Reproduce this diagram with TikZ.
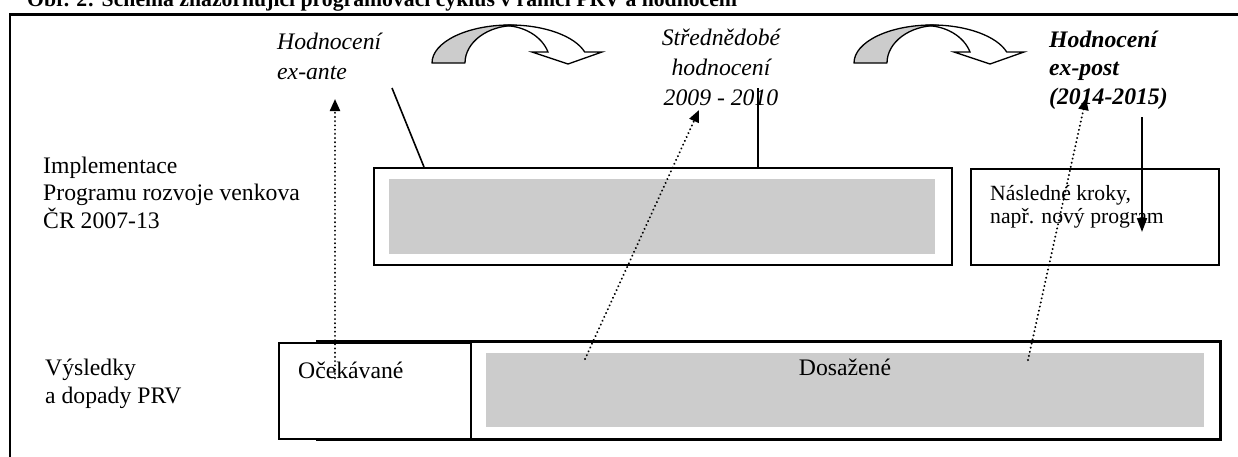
\documentclass[tikz,border=0pt]{standalone}
\usepackage{fontspec}
\setmainfont{Liberation Serif}
\usetikzlibrary{arrows.meta}
\definecolor{boxgray}{HTML}{CCCCCC}
\tikzset{
  curvarr/.pic={
    \filldraw[fill=boxgray, line width=1.3pt, line join=round]
      (0,0) .. controls (0,-21) and (35,-38) .. (78,-38)
      -- (83,-37.5) .. controls (55.4,-37.5) and (33,-20.7) .. (33,0) -- cycle;
    \filldraw[fill=white, line width=1.3pt, line join=miter]
      (71,-37.5) -- (78,-38) .. controls (112.4,-38) and (142.7,-27) .. (152.7,-11)
      -- (170,-11) -- (136,1) -- (100,-11) -- (116,-11)
      .. controls (109.9,-26.7) and (91.7,-37.5) .. (71,-37.5) -- cycle;
  }
}
\begin{document}
\begin{tikzpicture}[x=1pt,y=1pt,yscale=-1,
  txt/.style={inner sep=0pt, anchor=base west, align=left, font=\fontsize{23.7pt}{27.5pt}\selectfont},
  itxt/.style={inner sep=0pt, anchor=base west, align=left, font=\fontsize{23.7pt}{30pt}\selectfont\itshape},
  smtxt/.style={inner sep=0pt, anchor=base west, align=left, font=\fontsize{21.7pt}{23pt}\selectfont},
  titlest/.style={inner sep=0pt, anchor=base west, font=\fontsize{21.7pt}{24pt}\selectfont\bfseries},
  boxst/.style={draw, line width=1.6pt, inner sep=0pt, anchor=north west},
  grayst/.style={fill=boxgray, inner sep=0pt, anchor=north west},
  solidln/.style={line width=1.6pt},
  dotln/.style={line width=2.2pt, dash pattern=on 0.01pt off 4.2pt, line cap=round, -{Triangle[length=12pt,width=10pt]}},
]
\useasboundingbox (0,0) rectangle (1238,456);
\clip (0,0) rectangle (1238,456);

% title and frame
\node[titlest] (title) at (27,6) {Obr. 2: Schéma znázorňující programovací cyklus v rámci PRV a hodnocení};
\draw[line width=2.2pt] (10,460) -- (10,14.5) -- (1240,14.5);

% curved arrows
\pic[transform shape] at (432,63) {curvarr};
\pic[transform shape] at (854,63) {curvarr};

% evaluation labels (anchor = baseline of last line)
\node[itxt] (hexante) at (277,79) {Hodnocení\\ex-ante};
\node[itxt, align=center, anchor=base] (hstred) at (721,105) {Střednědobé\\hodnocení\\2009 - 2010};
\node[itxt, font=\fontsize{23.7pt}{28.5pt}\selectfont\bfseries\itshape] (hpost) at (1049,104) {Hodnocení\\ex-post\\(2014-2015)};

% row labels
\node[txt] (impl) at (43,228) {Implementace\\Programu rozvoje venkova\\ČR 2007-13};
\node[txt] (vysl) at (45,403) {Výsledky\\a dopady PRV};

% implementation boxes
\node[boxst, minimum width=578pt, minimum height=97pt] (box1) at (373,167) {};
\node[grayst, minimum width=546pt, minimum height=75pt] (gray1) at (389,179) {};
\node[boxst, minimum width=248pt, minimum height=96pt] (box2) at (970,168) {};
\node[smtxt] (next) at (990,223) {Následné kroky,\\např. nový program};

% results boxes
\node[boxst, line width=2.5pt, minimum width=903pt, minimum height=98pt] (dosbox) at (316,340) {};
\node[grayst, minimum width=718pt, minimum height=74pt] (dosgray) at (486,353) {};
\node[txt, anchor=base] (dostxt) at (845,375) {Dosažené};
\node[boxst, fill=white, minimum width=192pt, minimum height=96pt] (ocbox) at (278,342) {};
\node[txt] (octxt) at (298,378) {Očekávané};

% connector coordinates
\coordinate (l1a) at (392,88);
\coordinate (l1b) at (424,167);
\coordinate (l2a) at (758,88);
\coordinate (l2b) at (758,167);
\coordinate (l3a) at (1142,117);
\coordinate (l3b) at (1142,232);
\coordinate (d1a) at (335,378);
\coordinate (d1b) at (335,99);
\coordinate (d2a) at (585,359);
\coordinate (d2b) at (699,110);
\coordinate (d3a) at (1028,360);
\coordinate (d3b) at (1086,98);

% connectors
\draw[solidln] (l1a) -- (l1b);
\draw[solidln] (l2a) -- (l2b);
\draw[line width=2pt, -{Triangle[length=14pt,width=10pt]}] (l3a) -- (l3b);
\draw[dotln] (d1a) -- (d1b);
\draw[dotln] (d2a) -- (d2b);
\draw[dotln] (d3a) -- (d3b);
\end{tikzpicture}
\end{document}
